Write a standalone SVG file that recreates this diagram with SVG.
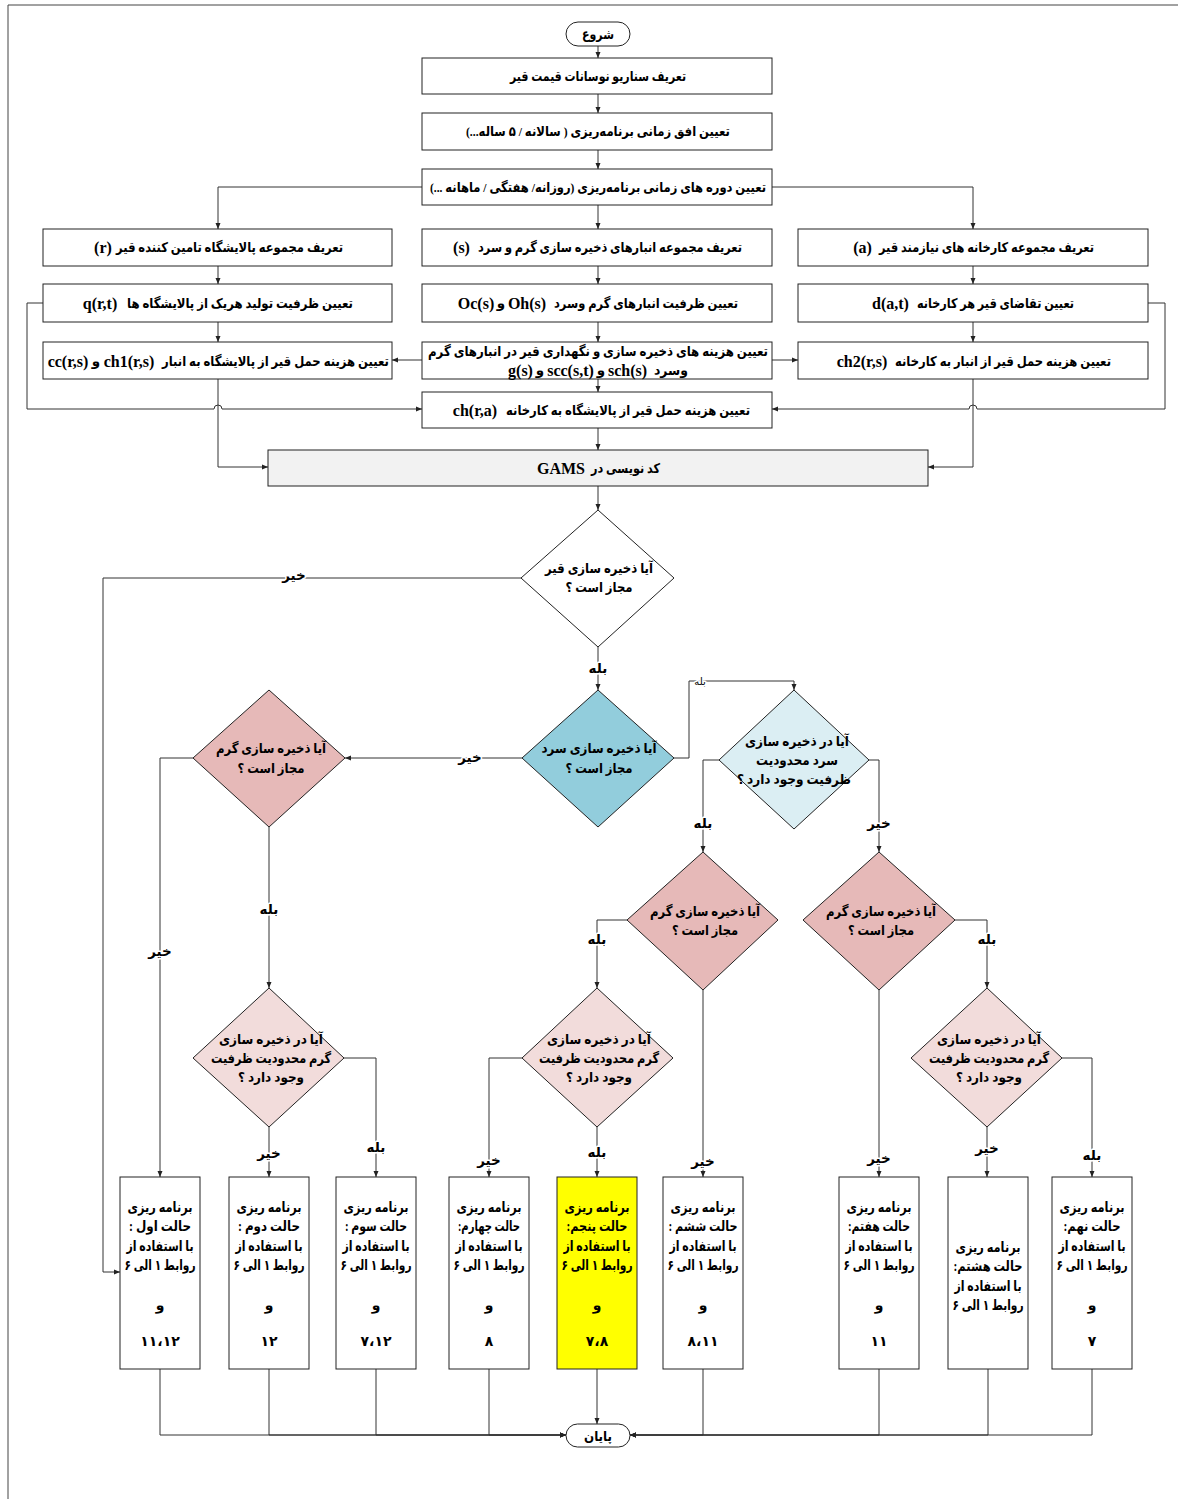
<svg xmlns="http://www.w3.org/2000/svg" width="1178" height="1499" viewBox="0 0 1178 1499">
<style>
text{font-family:"Liberation Serif","DejaVu Sans",sans-serif;font-weight:bold;font-size:13.5px;fill:#000;text-anchor:middle;direction:rtl}
text.la{font-family:"Liberation Serif",serif;font-size:16px;direction:ltr}
.bx{fill:#fff;stroke:#222;stroke-width:1}
.dm{stroke:#222;stroke-width:1}
.ln{fill:none;stroke:#333;stroke-width:1}
.lb{font-size:13.5px;stroke:#fff;stroke-width:3px;paint-order:stroke;stroke-linejoin:round}
.sm{font-size:10px;font-weight:normal}
.dt{font-size:13.5px}
.pb{font-size:14px}
</style>
<defs>
<marker id="ar" markerWidth="6" markerHeight="6" refX="6" refY="3" orient="auto" markerUnits="userSpaceOnUse">
<path d="M0,0.5 L6,3 L0,5.5 z" fill="#222"/>
</marker>
</defs>
<rect width="1178" height="1499" fill="#fff"/>
<path d="M8,1499 V5 H1178" fill="none" stroke="#444" stroke-width="1"/>

<g id="connectors" class="ln" marker-end="url(#ar)">
<path d="M598,46 V58"/>
<path d="M598,94 V113"/>
<path d="M598,150 V169"/>
<path d="M598,205 V229"/>
<path d="M422,187 H218 V229"/>
<path d="M772,187 H973 V229"/>
<path d="M218,266 V284"/>
<path d="M218,322 V342"/>
<path d="M598,266 V284"/>
<path d="M598,322 V342"/>
<path d="M598,379 V392"/>
<path d="M598,428 V450"/>
<path d="M973,266 V284"/>
<path d="M973,322 V342"/>
<path d="M422,360 H392"/>
<path d="M772,360 H798"/>
<path d="M43,303 H27 V409 H214 A4,4 0 0 1 222,409 H422"/>
<path d="M1148,303 H1165 V409 H977 A4,4 0 0 0 969,409 H772"/>
<path d="M218,379 V467 H268"/>
<path d="M973,379 V467 H928"/>
<path d="M598,486 V510"/>
<path d="M521,578 H103 V1272 H120"/>
<path d="M598,647 V690"/>
<path d="M522,758 H345"/>
<path d="M674,758 H689 V681 H794 V690"/>
<path d="M193,758 H160 V1177"/>
<path d="M269,827 V988"/>
<path d="M719,760 H703 V852"/>
<path d="M869,760 H879 V852"/>
<path d="M627,920 H597 V988"/>
<path d="M703,990 V1177"/>
<path d="M955,920 H987 V988"/>
<path d="M879,990 V1177"/>
<path d="M344,1058 H376 V1177"/>
<path d="M269,1127 V1177"/>
<path d="M522,1058 H489 V1177"/>
<path d="M597,1127 V1177"/>
<path d="M1062,1058 H1092 V1177"/>
<path d="M987,1127 V1177"/>
<path d="M160,1369 V1435 H566"/>
<path d="M269,1369 V1435 H566"/>
<path d="M376,1369 V1435 H566"/>
<path d="M489,1369 V1435 H566"/>
<path d="M597,1369 V1424"/>
<path d="M703,1369 V1435 H630"/>
<path d="M879,1369 V1435 H630"/>
<path d="M988,1369 V1435 H630"/>
<path d="M1092,1369 V1435 H630"/>
</g>

<g id="start"><rect class="bx" x="566" y="22" width="64" height="24" rx="12"/><text x="598" y="39" textLength="32" lengthAdjust="spacingAndGlyphs">شروع</text></g>
<g id="n1"><rect class="bx" x="422" y="58" width="350" height="36"/><text x="598" y="81" textLength="176" lengthAdjust="spacingAndGlyphs">تعریف سناریو نوسانات قیمت قیر</text></g>
<g id="n2"><rect class="bx" x="422" y="113" width="350" height="37"/><text x="598" y="136" textLength="264" lengthAdjust="spacingAndGlyphs">تعیین افق زمانی  برنامه‌ریزی ( سالانه / ۵ ساله...)</text></g>
<g id="n3"><rect class="bx" x="422" y="169" width="350" height="36"/><text x="598" y="192" textLength="336" lengthAdjust="spacingAndGlyphs">تعیین دوره های زمانی  برنامه‌ریزی (روزانه/ هفتگی / ماهانه ...)</text></g>

<g id="l1"><rect class="bx" x="43" y="229" width="349" height="37"/><text x="229.5" y="252" textLength="227" lengthAdjust="spacingAndGlyphs">تعریف مجموعه پالایشگاه تامین کننده قیر</text><text class="la" x="103" y="253">(r)</text></g>
<g id="l2"><rect class="bx" x="43" y="284" width="349" height="38"/><text x="240" y="308" textLength="226" lengthAdjust="spacingAndGlyphs">تعیین ظرفیت تولید هریک از پالایشگاه ها</text><text class="la" x="100" y="309">q(r,t)</text></g>
<g id="l3"><rect class="bx" x="43" y="342" width="349" height="37"/><text x="275.5" y="366" textLength="227" lengthAdjust="spacingAndGlyphs">تعیین هزینه حمل قیر از پالایشگاه به انبار</text><text class="la" x="129" y="367">ch1(r,s)</text><text x="96" y="366">و</text><text class="la" x="68" y="367">cc(r,s)</text></g>

<g id="m1"><rect class="bx" x="422" y="229" width="350" height="37"/><text x="610" y="252" textLength="264" lengthAdjust="spacingAndGlyphs">تعریف مجموعه انبارهای ذخیره سازی گرم و سرد</text><text class="la" x="461.5" y="253">(s)</text></g>
<g id="m2"><rect class="bx" x="422" y="284" width="350" height="38"/><text x="646" y="308" textLength="184" lengthAdjust="spacingAndGlyphs">تعیین  ظرفیت انبارهای گرم وسرد</text><text class="la" x="527" y="309">Oh(s)</text><text x="501" y="308">و</text><text class="la" x="476" y="309">Oc(s)</text></g>
<g id="m3"><rect class="bx" x="422" y="342" width="350" height="37"/><text x="598" y="356" textLength="340" lengthAdjust="spacingAndGlyphs">تعیین  هزینه های ذخیره سازی و نگهداری قیر در انبارهای گرم</text><text x="671" y="375" textLength="34" lengthAdjust="spacingAndGlyphs">وسرد</text><text class="la" x="627.5" y="376">sch(s)</text><text x="601" y="375">و</text><text class="la" x="570.5" y="376">scc(s,t)</text><text x="540" y="375">و</text><text class="la" x="520.5" y="376">g(s)</text></g>
<g id="m4"><rect class="bx" x="422" y="392" width="350" height="36"/><text x="628" y="415" textLength="244" lengthAdjust="spacingAndGlyphs">تعیین هزینه حمل قیر از پالایشگاه به کارخانه</text><text class="la" x="475" y="416">ch(r,a)</text></g>

<g id="r1"><rect class="bx" x="798" y="229" width="350" height="37"/><text x="986.5" y="252" textLength="215" lengthAdjust="spacingAndGlyphs">تعریف مجموعه کارخانه های نیازمند قیر</text><text class="la" x="862.5" y="253">(a)</text></g>
<g id="r2"><rect class="bx" x="798" y="284" width="350" height="38"/><text x="995.5" y="308" textLength="157" lengthAdjust="spacingAndGlyphs">تعیین تقاضای قیر هر کارخانه</text><text class="la" x="890.5" y="309">d(a,t)</text></g>
<g id="r3"><rect class="bx" x="798" y="342" width="350" height="37"/><text x="1003" y="366" textLength="216" lengthAdjust="spacingAndGlyphs">تعیین هزینه حمل قیر از انبار به کارخانه</text><text class="la" x="862" y="367">ch2(r,s)</text></g>

<g id="gams"><rect x="268" y="450" width="660" height="36" fill="#f2f2f2" stroke="#222"/><text x="625.5" y="473" textLength="69" lengthAdjust="spacingAndGlyphs">کد نویسی در</text><text class="la" x="561" y="474">GAMS</text></g>

<g id="d1"><polygon class="dm" fill="#fff" points="598,510 674,578 598,647 521,578"/><text class="dt" x="599" y="573" textLength="108" lengthAdjust="spacingAndGlyphs">آیا ذخیره سازی قیر</text><text class="dt" x="599" y="592" textLength="67" lengthAdjust="spacingAndGlyphs">مجاز است ؟</text></g>
<g id="d2"><polygon class="dm" fill="#92cddc" points="598,690 674,758 598,827 522,758"/><text class="dt" x="599" y="753" textLength="115" lengthAdjust="spacingAndGlyphs">آیا ذخیره سازی سرد</text><text class="dt" x="599" y="773" textLength="67" lengthAdjust="spacingAndGlyphs">مجاز است ؟</text></g>
<g id="d3"><polygon class="dm" fill="#e6b9b8" points="269,690 345,758 269,827 193,758"/><text class="dt" x="271" y="753" textLength="110" lengthAdjust="spacingAndGlyphs">آیا ذخیره سازی گرم</text><text class="dt" x="271" y="773" textLength="67" lengthAdjust="spacingAndGlyphs">مجاز است ؟</text></g>
<g id="d4"><polygon class="dm" fill="#dbeef3" points="794,690 869,760 794,829 719,760"/><text class="dt" x="797" y="746" textLength="104" lengthAdjust="spacingAndGlyphs">آیا در ذخیره سازی</text><text class="dt" x="797" y="765" textLength="82" lengthAdjust="spacingAndGlyphs">سرد محدودیت</text><text class="dt" x="794" y="784" textLength="114" lengthAdjust="spacingAndGlyphs">ظرفیت وجود دارد ؟</text></g>
<g id="d6"><polygon class="dm" fill="#e6b9b8" points="703,852 778,920 703,990 627,920"/><text class="dt" x="705" y="916" textLength="110" lengthAdjust="spacingAndGlyphs">آیا ذخیره سازی گرم</text><text class="dt" x="705" y="935" textLength="66" lengthAdjust="spacingAndGlyphs">مجاز است ؟</text></g>
<g id="d7"><polygon class="dm" fill="#e6b9b8" points="879,852 955,920 879,990 803,920"/><text class="dt" x="881" y="916" textLength="110" lengthAdjust="spacingAndGlyphs">آیا ذخیره سازی گرم</text><text class="dt" x="881" y="935" textLength="66" lengthAdjust="spacingAndGlyphs">مجاز است ؟</text></g>
<g id="d5"><polygon class="dm" fill="#f2dcdb" points="269,988 344,1058 269,1127 193,1058"/><text class="dt" x="271" y="1044" textLength="104" lengthAdjust="spacingAndGlyphs">آیا در ذخیره سازی</text><text class="dt" x="271" y="1063" textLength="120" lengthAdjust="spacingAndGlyphs">گرم محدودیت ظرفیت</text><text class="dt" x="271" y="1082" textLength="66" lengthAdjust="spacingAndGlyphs">وجود دارد ؟</text></g>
<g id="d8"><polygon class="dm" fill="#f2dcdb" points="597,988 673,1058 597,1127 522,1058"/><text class="dt" x="599" y="1044" textLength="104" lengthAdjust="spacingAndGlyphs">آیا در ذخیره سازی</text><text class="dt" x="599" y="1063" textLength="120" lengthAdjust="spacingAndGlyphs">گرم محدودیت ظرفیت</text><text class="dt" x="599" y="1082" textLength="66" lengthAdjust="spacingAndGlyphs">وجود دارد ؟</text></g>
<g id="d9"><polygon class="dm" fill="#f2dcdb" points="987,988 1062,1058 987,1127 911,1058"/><text class="dt" x="989" y="1044" textLength="104" lengthAdjust="spacingAndGlyphs">آیا در ذخیره سازی</text><text class="dt" x="989" y="1063" textLength="120" lengthAdjust="spacingAndGlyphs">گرم محدودیت ظرفیت</text><text class="dt" x="989" y="1082" textLength="66" lengthAdjust="spacingAndGlyphs">وجود دارد ؟</text></g>

<g id="labels">
<text class="lb" x="294" y="580">خیر</text>
<text class="lb" x="598" y="673">بله</text>
<text class="lb" x="470" y="762">خیر</text>
<text class="lb sm" x="700" y="685">بله</text>
<text class="lb" x="703" y="828">بله</text>
<text class="lb" x="879" y="828">خیر</text>
<text class="lb" x="160" y="956">خیر</text>
<text class="lb" x="269" y="914">بله</text>
<text class="lb" x="597" y="944">بله</text>
<text class="lb" x="987" y="944">بله</text>
<text class="lb" x="703" y="1166">خیر</text>
<text class="lb" x="879" y="1163">خیر</text>
<text class="lb" x="376" y="1152">بله</text>
<text class="lb" x="269" y="1158">خیر</text>
<text class="lb" x="489" y="1165">خیر</text>
<text class="lb" x="597" y="1157">بله</text>
<text class="lb" x="1092" y="1160">بله</text>
<text class="lb" x="987" y="1153">خیر</text>
</g>

<g id="p1"><rect class="bx" x="120" y="1177" width="80" height="192"/><text class="pb" x="160" y="1212" textLength="65" lengthAdjust="spacingAndGlyphs">برنامه ریزی</text><text class="pb" x="160" y="1231" textLength="62" lengthAdjust="spacingAndGlyphs">حالت اول :</text><text class="pb" x="160" y="1251" textLength="67" lengthAdjust="spacingAndGlyphs">با استفاده از</text><text class="pb" x="160" y="1270" textLength="71" lengthAdjust="spacingAndGlyphs">روابط ۱ الی ۶</text><text class="pb" x="160" y="1310">و</text><text class="pb" x="160" y="1346">۱۱،۱۲</text></g>
<g id="p2"><rect class="bx" x="229" y="1177" width="80" height="192"/><text class="pb" x="269" y="1212" textLength="65" lengthAdjust="spacingAndGlyphs">برنامه ریزی</text><text class="pb" x="269" y="1231" textLength="62" lengthAdjust="spacingAndGlyphs">حالت دوم :</text><text class="pb" x="269" y="1251" textLength="67" lengthAdjust="spacingAndGlyphs">با استفاده از</text><text class="pb" x="269" y="1270" textLength="71" lengthAdjust="spacingAndGlyphs">روابط ۱ الی ۶</text><text class="pb" x="269" y="1310">و</text><text class="pb" x="269" y="1346">۱۲</text></g>
<g id="p3"><rect class="bx" x="336" y="1177" width="80" height="192"/><text class="pb" x="376" y="1212" textLength="65" lengthAdjust="spacingAndGlyphs">برنامه ریزی</text><text class="pb" x="376" y="1231" textLength="62" lengthAdjust="spacingAndGlyphs">حالت سوم :</text><text class="pb" x="376" y="1251" textLength="67" lengthAdjust="spacingAndGlyphs">با استفاده از</text><text class="pb" x="376" y="1270" textLength="71" lengthAdjust="spacingAndGlyphs">روابط ۱ الی ۶</text><text class="pb" x="376" y="1310">و</text><text class="pb" x="376" y="1346">۷،۱۲</text></g>
<g id="p4"><rect class="bx" x="449" y="1177" width="80" height="192"/><text class="pb" x="489" y="1212" textLength="65" lengthAdjust="spacingAndGlyphs">برنامه ریزی</text><text class="pb" x="489" y="1231" textLength="62" lengthAdjust="spacingAndGlyphs">حالت چهارم:</text><text class="pb" x="489" y="1251" textLength="67" lengthAdjust="spacingAndGlyphs">با استفاده از</text><text class="pb" x="489" y="1270" textLength="71" lengthAdjust="spacingAndGlyphs">روابط ۱ الی ۶</text><text class="pb" x="489" y="1310">و</text><text class="pb" x="489" y="1346">۸</text></g>
<g id="p5"><rect x="557" y="1177" width="80" height="192" fill="#ffff00" stroke="#222"/><text class="pb" x="597" y="1212" textLength="65" lengthAdjust="spacingAndGlyphs">برنامه ریزی</text><text class="pb" x="597" y="1231" textLength="61" lengthAdjust="spacingAndGlyphs">حالت پنجم:</text><text class="pb" x="597" y="1251" textLength="67" lengthAdjust="spacingAndGlyphs">با استفاده از</text><text class="pb" x="597" y="1270" textLength="71" lengthAdjust="spacingAndGlyphs">روابط ۱ الی ۶</text><text class="pb" x="597" y="1310">و</text><text class="pb" x="597" y="1346">۷،۸</text></g>
<g id="p6"><rect class="bx" x="663" y="1177" width="80" height="192"/><text class="pb" x="703" y="1212" textLength="65" lengthAdjust="spacingAndGlyphs">برنامه ریزی</text><text class="pb" x="703" y="1231" textLength="69" lengthAdjust="spacingAndGlyphs">حالت ششم :</text><text class="pb" x="703" y="1251" textLength="67" lengthAdjust="spacingAndGlyphs">با استفاده از</text><text class="pb" x="703" y="1270" textLength="71" lengthAdjust="spacingAndGlyphs">روابط ۱ الی ۶</text><text class="pb" x="703" y="1310">و</text><text class="pb" x="703" y="1346">۸،۱۱</text></g>
<g id="p7"><rect class="bx" x="839" y="1177" width="80" height="192"/><text class="pb" x="879" y="1212" textLength="65" lengthAdjust="spacingAndGlyphs">برنامه ریزی</text><text class="pb" x="879" y="1231" textLength="62" lengthAdjust="spacingAndGlyphs">حالت هفتم:</text><text class="pb" x="879" y="1251" textLength="67" lengthAdjust="spacingAndGlyphs">با استفاده از</text><text class="pb" x="879" y="1270" textLength="71" lengthAdjust="spacingAndGlyphs">روابط ۱ الی ۶</text><text class="pb" x="879" y="1310">و</text><text class="pb" x="879" y="1346">۱۱</text></g>
<g id="p8"><rect class="bx" x="948" y="1177" width="80" height="192"/><text class="pb" x="988" y="1252" textLength="65" lengthAdjust="spacingAndGlyphs">برنامه ریزی</text><text class="pb" x="988" y="1271" textLength="69" lengthAdjust="spacingAndGlyphs">حالت هشتم:</text><text class="pb" x="988" y="1291" textLength="67" lengthAdjust="spacingAndGlyphs">با استفاده از</text><text class="pb" x="988" y="1310" textLength="71" lengthAdjust="spacingAndGlyphs">روابط ۱ الی ۶</text></g>
<g id="p9"><rect class="bx" x="1052" y="1177" width="80" height="192"/><text class="pb" x="1092" y="1212" textLength="65" lengthAdjust="spacingAndGlyphs">برنامه ریزی</text><text class="pb" x="1092" y="1231" textLength="57" lengthAdjust="spacingAndGlyphs">حالت نهم:</text><text class="pb" x="1092" y="1251" textLength="67" lengthAdjust="spacingAndGlyphs">با استفاده از</text><text class="pb" x="1092" y="1270" textLength="71" lengthAdjust="spacingAndGlyphs">روابط ۱ الی ۶</text><text class="pb" x="1092" y="1310">و</text><text class="pb" x="1092" y="1346">۷</text></g>

<g id="end"><rect class="bx" x="566" y="1424" width="64" height="23" rx="11.5"/><text x="598" y="1441" textLength="28" lengthAdjust="spacingAndGlyphs">پایان</text></g>
</svg>
